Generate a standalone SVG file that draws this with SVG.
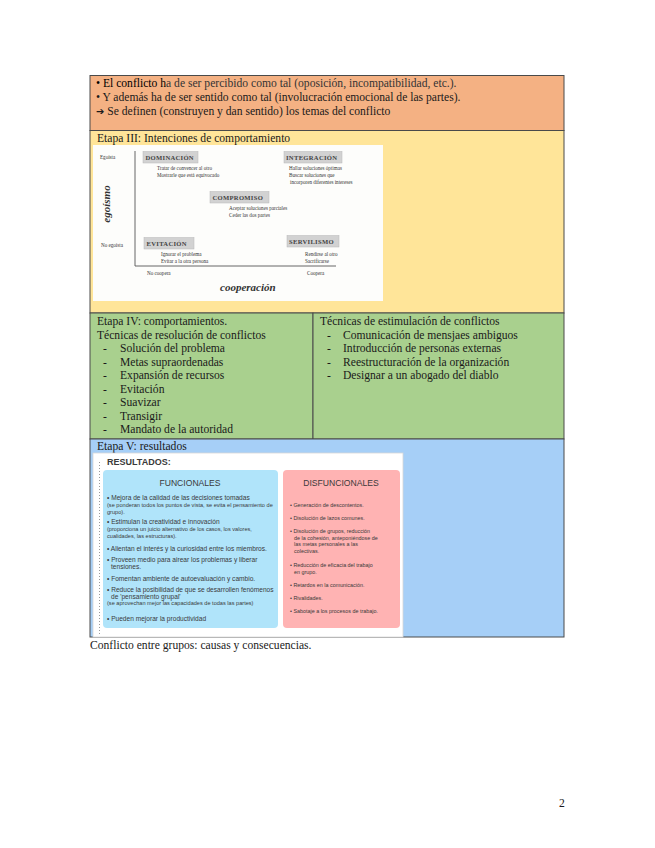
<svg xmlns="http://www.w3.org/2000/svg" width="655" height="848" viewBox="0 0 655 848">
<style>
.s{font-family:"Liberation Serif","Times New Roman",serif;font-size:11.6px;fill:#1a1a1a}
.d{font-family:"Liberation Serif","Times New Roman",serif;font-size:5.1px;fill:#333}
.bx{font-family:"Liberation Serif","Times New Roman",serif;font-size:6.6px;font-weight:bold;fill:#444;letter-spacing:0.3px}
.bb{fill:#d2d2d2;stroke:#b8b8b8;stroke-width:0.5}
.ax{font-family:"Liberation Serif","Times New Roman",serif;font-size:11px;font-weight:bold;font-style:italic;fill:#333}
.a{font-family:"Liberation Sans",Arial,sans-serif;fill:#3a3a3a}
.f{font-size:6.6px}
.p{font-size:5.4px}
.g{font-size:5.6px}
.cell{stroke:#4a4a4a;stroke-width:1}
</style>
<rect width="655" height="848" fill="#ffffff"/>

<g id="row1">
<rect class="cell" x="90" y="75.5" width="474" height="55" fill="#f4b183"/>
<text class="s" x="96" y="87"><tspan fill="#000">• El conflicto h</tspan><tspan fill="#333">a de ser percibido como tal (oposición, incompatibilidad, etc.).</tspan></text>
<text class="s" x="96" y="101" fill="#000">• Y además ha de ser sentido como tal (involucración emocional de las partes).</text>
<text class="s" x="96" y="115" fill="#333"><tspan font-family="DejaVu Sans,sans-serif" font-size="10">➔</tspan> Se definen (construyen y dan sentido) los temas del conflicto</text>
</g>

<g id="etapa3">
<rect class="cell" x="90" y="130.5" width="474" height="182.5" fill="#ffe599"/>
<text class="s" x="97" y="142">Etapa III: Intenciones de comportamiento</text>
<rect x="93" y="145" width="290" height="156" fill="#fdfdfb"/>
<line x1="135" y1="151" x2="135" y2="266" stroke="#555" stroke-width="0.9"/>
<line x1="135" y1="266" x2="336" y2="266" stroke="#555" stroke-width="0.9"/>
<text class="d" x="100" y="159">Egoísta</text>
<text class="d" x="101" y="247">No egoísta</text>
<text class="ax" transform="translate(109.5,204) rotate(-90)" text-anchor="middle" font-size="13">egoísmo</text>
<rect class="bb" x="143" y="151.5" width="55" height="11.5"/>
<text class="bx" x="145.5" y="160">DOMINACIÓN</text>
<text class="d" x="157" y="170">Tratar de convencer al otro</text>
<text class="d" x="157" y="177">Mostrarle que está equivocado</text>
<rect class="bb" x="284" y="151.5" width="58" height="11.5"/>
<text class="bx" x="286" y="160">INTEGRACIÓN</text>
<text class="d" x="289" y="170">Hallar soluciones óptimas</text>
<text class="d" x="289" y="177">Buscar soluciones que</text>
<text class="d" x="290" y="184">incorporen diferentes intereses</text>
<rect class="bb" x="210" y="191.5" width="59" height="11.5"/>
<text class="bx" x="212.5" y="200">COMPROMISO</text>
<text class="d" x="229" y="210">Aceptar soluciones parciales</text>
<text class="d" x="229" y="217">Ceder las dos partes</text>
<rect class="bb" x="144" y="237.5" width="50" height="11.5"/>
<text class="bx" x="146.5" y="246">EVITACIÓN</text>
<text class="d" x="161" y="256">Ignorar el problema</text>
<text class="d" x="161" y="263">Evitar a la otra persona</text>
<rect class="bb" x="287" y="235.5" width="52" height="11.5"/>
<text class="bx" x="289" y="244">SERVILISMO</text>
<text class="d" x="305" y="256">Rendirse al otro</text>
<text class="d" x="305" y="263">Sacrificarse</text>
<text class="d" x="147" y="275">No coopera</text>
<text class="d" x="307" y="275">Coopera</text>
<text class="ax" x="220" y="291">cooperación</text>
</g>

<g id="etapa4">
<rect class="cell" x="90" y="313" width="223" height="126" fill="#a9d08e"/>
<rect class="cell" x="313" y="313" width="251" height="126" fill="#a9d08e"/>
<text class="s" x="97" y="325">Etapa IV: comportamientos.</text>
<text class="s" x="97" y="338.5">Técnicas de resolución de conflictos</text>
<g class="s">
<text x="103" y="352">-</text><text x="120" y="352">Solución del problema</text>
<text x="103" y="365.5">-</text><text x="120" y="365.5">Metas supraordenadas</text>
<text x="103" y="379">-</text><text x="120" y="379">Expansión de recursos</text>
<text x="103" y="392.5">-</text><text x="120" y="392.5">Evitación</text>
<text x="103" y="406">-</text><text x="120" y="406">Suavizar</text>
<text x="103" y="419.5">-</text><text x="120" y="419.5">Transigir</text>
<text x="103" y="433">-</text><text x="120" y="433">Mandato de la autoridad</text>
</g>
<text class="s" x="320" y="325">Técnicas de estimulación de conflictos</text>
<g class="s">
<text x="327" y="338.5">-</text><text x="343" y="338.5">Comunicación de mensjaes ambiguos</text>
<text x="327" y="352">-</text><text x="343" y="352">Introducción de personas externas</text>
<text x="327" y="365.5">-</text><text x="343" y="365.5">Reestructuración de la organización</text>
<text x="327" y="379">-</text><text x="343" y="379">Designar a un abogado del diablo</text>
</g>
</g>

<g id="etapa5">
<rect class="cell" x="90" y="439" width="474" height="198" fill="#a6cff7"/>
<text class="s" x="97" y="449.5">Etapa V: resultados</text>
<rect x="93" y="453" width="310" height="184" fill="#ffffff" stroke="#d8d8d8" stroke-width="0.8"/>
<line x1="99.5" y1="462" x2="99.5" y2="636" stroke="#9a9a9a" stroke-width="1" stroke-dasharray="1,2"/>
<text class="a" x="107" y="465" font-size="9" font-weight="bold" fill="#222">RESULTADOS:</text>
<rect x="103" y="470" width="175" height="158" rx="4" fill="#b0e4fa"/>
<rect x="283" y="470" width="117" height="158" rx="4" fill="#ffb3b3"/>
<text class="a" x="190" y="486" font-size="8.6" text-anchor="middle" fill="#666">FUNCIONALES</text>
<text class="a" x="341" y="486" font-size="8.6" text-anchor="middle" fill="#666">DISFUNCIONALES</text>
<g class="a">
<text class="f" x="107" y="500">• Mejora de la calidad de las decisiones tomadas</text>
<text class="g" x="107" y="507">(se ponderan todos los puntos de vista, se evita el pensamiento de</text>
<text class="g" x="107" y="514">grupo).</text>
<text class="f" x="107" y="524">• Estimulan la creatividad e innovación</text>
<text class="g" x="107" y="531">(proporciona un juicio alternativo de los casos, los valores,</text>
<text class="g" x="107" y="538">cualidades, las estructuras).</text>
<text class="f" x="107" y="551">• Alientan el interés y la curiosidad entre los miembros.</text>
<text class="f" x="107" y="562">• Proveen medio para airear los problemas y liberar</text>
<text class="f" x="111" y="569">tensiones.</text>
<text class="f" x="107" y="581">• Fomentan ambiente de autoevaluación y cambio.</text>
<text class="f" x="107" y="592">• Reduce la posibilidad de que se desarrollen fenómenos</text>
<text class="f" x="111" y="599">de 'pensamiento grupal'</text>
<text class="g" x="107" y="605">(se aprovechan mejor las capacidades de todas las partes)</text>
<text class="f" x="107" y="621">• Pueden mejorar la productividad</text>
</g>
<g class="a">
<text class="p" x="290" y="507">• Generación de descontentos.</text>
<text class="p" x="290" y="520">• Disolución de lazos comunes.</text>
<text class="p" x="290" y="533">• Disolución de grupos, reducción</text>
<text class="p" x="294" y="540">de la cohesión, anteponiéndose de</text>
<text class="p" x="294" y="546">las metas personales a las</text>
<text class="p" x="294" y="553">colectivas.</text>
<text class="p" x="290" y="567">• Reducción de eficacia del trabajo</text>
<text class="p" x="294" y="574">en grupo.</text>
<text class="p" x="290" y="587">• Retardos en la comunicación.</text>
<text class="p" x="290" y="600">• Rivalidades.</text>
<text class="p" x="290" y="613">• Sabotaje a los procesos de trabajo.</text>
</g>
</g>

<g id="caption">
<text class="s" x="90" y="649">Conflicto entre grupos: causas y consecuencias.</text>
</g>
<g id="page">
<text class="s" x="559" y="807">2</text>
</g>
</svg>
